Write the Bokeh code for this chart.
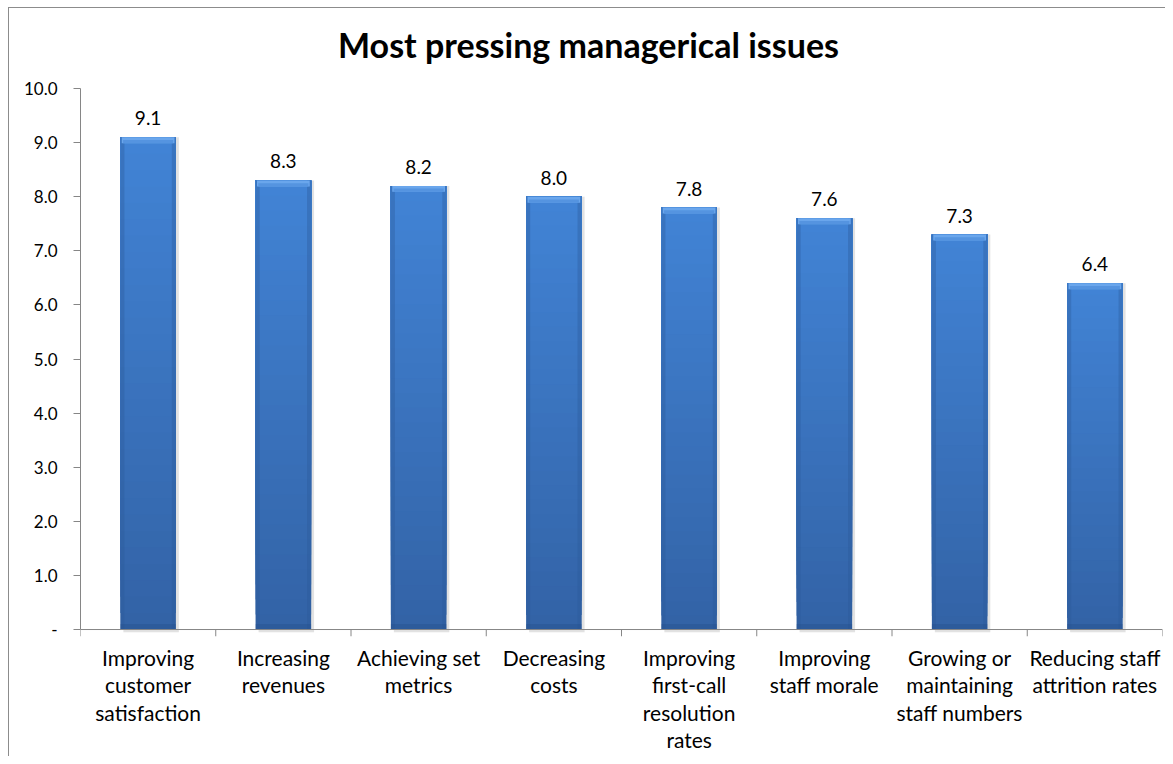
from bokeh.plotting import figure
from bokeh.models import FixedTicker, Span, Label, Range1d
from bokeh.embed import file_html
from bokeh.resources import INLINE
from bokeh.core.properties import value

categories = ["Improving\ncustomer\nsatisfaction", "Increasing\nrevenues", "Achieving set\nmetrics",
              "Decreasing\ncosts", "Improving\nfirst-call\nresolution\nrates", "Improving\nstaff morale",
              "Growing or\nmaintaining\nstaff numbers", "Reducing staff\nattrition rates"]
scores = [9.1, 8.3, 8.2, 8.0, 7.8, 7.6, 7.3, 6.4]
y_ticks = [0, 1, 2, 3, 4, 5, 6, 7, 8, 9, 10]
y_tick_labels = ["-", "1.0", "2.0", "3.0", "4.0", "5.0", "6.0", "7.0", "8.0", "9.0", "10.0"]
title_text = "Most pressing managerical issues"

FONT = "Lato"
GRAY = "#868686"
n = len(categories)
centers = [i + 0.5 for i in range(n)]
bounds = list(range(n + 1))

p = figure(width=1165, height=756, output_backend="svg", toolbar_location=None,
           title=None, x_range=Range1d(0, n), y_range=Range1d(-0.129, 11.479),
           min_border_left=80, min_border_right=3, min_border_top=8, min_border_bottom=120)
p.outline_line_color = None
p.xgrid.visible = False
p.ygrid.visible = False
p.background_fill_color = "white"
p.border_fill_color = None
p.styles = {
    "background": ("linear-gradient(#8c8c8c,#8c8c8c) 8px 7px / 1px 100% no-repeat, "
                   "linear-gradient(#8c8c8c,#8c8c8c) 8px 7px / 100% 1px no-repeat, white"),
}

# bars: shadow, vertical gradient bands, bevel edges
W = 0.41
p.vbar(x=[c + 0.022 for c in centers], top=scores, bottom=-0.05, width=W, fill_color="#bfbfbf",
       fill_alpha=0.45, line_color=None)
top_col = (0x42, 0x84, 0xD6)
bot_col = (0x33, 0x63, 0xA6)
N = 30
xs, bots, tops, cols = [], [], [], []
for k in range(N):
    for c, v in zip(centers, scores):
        f = (k + 0.5) / N
        col = tuple(int(bot_col[j] + (top_col[j] - bot_col[j]) * f) for j in range(3))
        xs.append(c); bots.append(v * k / N); tops.append(v)
        cols.append("#%02x%02x%02x" % col)
p.vbar(x=xs, bottom=bots, top=tops, width=W, fill_color=cols, line_color=None)
# side edges
EW = 0.03
p.vbar(x=[c - W / 2 + EW / 2 for c in centers], top=scores, bottom=0, width=EW,
       fill_color="#2c5a98", fill_alpha=0.35, line_color=None)
p.vbar(x=[c + W / 2 - EW / 2 for c in centers], top=scores, bottom=0, width=EW,
       fill_color="#2c5a98", fill_alpha=0.35, line_color=None)
# bottom edge
p.vbar(x=centers, top=[0.1] * n, bottom=0, width=W, fill_color="#234d86", fill_alpha=0.35, line_color=None)
# top bevel
p.vbar(x=centers, top=scores, bottom=[v - 0.11 for v in scores], width=W - 0.02,
       fill_color="#6aa6ec", line_color=None)
p.vbar(x=centers, top=[v - 0.05 for v in scores], bottom=[v - 0.11 for v in scores], width=W - 0.04,
       fill_color="#5594e0", line_color=None)

# value labels
p.text(x=centers, y=scores, text=["%.1f" % v for v in scores], text_align="center",
       text_baseline="alphabetic", y_offset=-19, text_font=value(FONT), text_font_size="19px",
       text_color="#000000")

# x axis line and boundary ticks
p.add_layout(Span(location=0, dimension="width", line_color=GRAY, line_width=1))
p.segment(x0=bounds, y0=[0] * (n + 1), x1=bounds, y1=[-0.129] * (n + 1), line_color=GRAY, line_width=1)

xa = p.xaxis[0]
xa.ticker = FixedTicker(ticks=centers)
xa.major_label_overrides = {c: lab for c, lab in zip(centers, categories)}
xa.axis_line_color = None
xa.major_tick_line_color = None
xa.minor_tick_line_color = None
xa.major_tick_out = 0
xa.major_tick_in = 0
xa.major_label_standoff = 8
xa.major_label_text_font = FONT
xa.major_label_text_font_size = "21px"
xa.major_label_text_line_height = 1.1
xa.major_label_text_color = "#000000"
xa.major_label_text_align = "center"

ya = p.yaxis[0]
ya.ticker = FixedTicker(ticks=y_ticks)
ya.major_label_overrides = {t: lab for t, lab in zip(y_ticks, y_tick_labels)}
ya.bounds = (0, 10)
ya.axis_line_color = GRAY
ya.major_tick_line_color = GRAY
ya.minor_tick_line_color = None
ya.major_tick_out = 7
ya.major_tick_in = 0
ya.major_label_standoff = 16
ya.major_label_text_font = FONT
ya.major_label_text_font_size = "17px"
ya.major_label_text_color = "#000000"

p.add_layout(Label(x=3.756, y=10.815, text=title_text, text_align="center", text_baseline="middle",
                   text_font=FONT, text_font_size="34px", text_font_style="bold", text_color="#000000"))

open("out.html", "w").write(file_html(p, INLINE))
